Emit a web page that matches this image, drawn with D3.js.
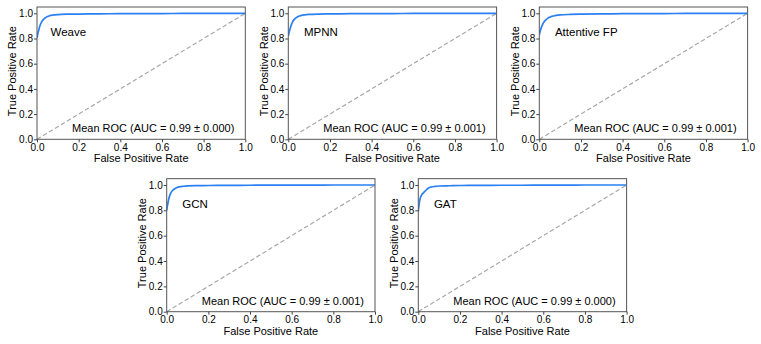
<!DOCTYPE html>
<html><head><meta charset="utf-8">
<script src="https://cdn.jsdelivr.net/npm/d3@7"></script>
<style>
body{margin:0;background:#fff;}
text{font-family:"Liberation Sans",Arial,sans-serif;fill:#000;}
</style></head>
<body><svg id="c" width="761" height="344"></svg>
<script>
const models = ["Weave", "MPNN", "Attentive FP", "GCN", "GAT"];
const aucLabels = ["Mean ROC (AUC = 0.99 \u00b1 0.000)", "Mean ROC (AUC = 0.99 \u00b1 0.001)", "Mean ROC (AUC = 0.99 \u00b1 0.001)", "Mean ROC (AUC = 0.99 \u00b1 0.001)", "Mean ROC (AUC = 0.99 \u00b1 0.000)"];
const fpr = [0, 0.005, 0.01, 0.015, 0.02, 0.03, 0.04, 0.05, 0.06, 0.08, 0.1, 0.15, 0.2, 0.3, 0.4, 0.5, 0.6, 0.7, 0.8, 0.9, 1.0];
const tprWeave = [0.805, 0.845, 0.878, 0.905, 0.925, 0.95, 0.964, 0.974, 0.981, 0.987, 0.99, 0.993, 0.994, 0.996, 0.997, 0.998, 0.998, 0.999, 0.999, 1.0, 1.0];
const tprMPNN = [0.82, 0.855, 0.885, 0.91, 0.93, 0.954, 0.967, 0.976, 0.982, 0.988, 0.991, 0.994, 0.995, 0.997, 0.998, 0.998, 0.999, 0.999, 0.999, 1.0, 1.0];
const tprAttentiveFP = [0.83, 0.862, 0.888, 0.908, 0.924, 0.946, 0.96, 0.969, 0.976, 0.983, 0.987, 0.991, 0.993, 0.995, 0.997, 0.998, 0.998, 0.999, 0.999, 1.0, 1.0];
const tprGCN = [0.8, 0.85, 0.89, 0.918, 0.938, 0.96, 0.972, 0.98, 0.985, 0.99, 0.993, 0.995, 0.996, 0.997, 0.998, 0.999, 0.999, 0.999, 1.0, 1.0, 1.0];
const tprGAT = [0.79, 0.86, 0.9, 0.918, 0.93, 0.948, 0.964, 0.977, 0.983, 0.989, 0.992, 0.994, 0.996, 0.997, 0.998, 0.998, 0.999, 0.999, 1.0, 1.0, 1.0];
const tprs = [tprWeave, tprMPNN, tprAttentiveFP, tprGCN, tprGAT];
const ticks = [0, 0.2, 0.4, 0.6, 0.8, 1.0];

const layout = [
  {x0: 37, y0: 139.3, y1: 13.3},
  {x0: 288.3, y0: 139.3, y1: 13.3},
  {x0: 539.3, y0: 139.3, y1: 13.3},
  {x0: 166.7, y0: 311.7, y1: 185},
  {x0: 418.3, y0: 311.7, y1: 185}
];
const W = 208.3;
const svg = d3.select("#c");
const fmt = d3.format(".1f");

models.forEach((name, i) => {
  const L = layout[i];
  const x = d3.scaleLinear().domain([0, 1]).range([L.x0, L.x0 + W]);
  const y = d3.scaleLinear().domain([0, 1]).range([L.y0, L.y1]);
  const yTop = y(1.05);
  const g = svg.append("g");
  const cid = "clip" + i;
  g.append("clipPath").attr("id", cid).append("rect")
    .attr("x", x(0)).attr("y", yTop).attr("width", W).attr("height", y(0) - yTop);

  // diagonal
  g.append("line").attr("x1", x(0)).attr("y1", y(0)).attr("x2", x(1)).attr("y2", y(1))
    .attr("stroke", "#a8a8a8").attr("stroke-width", 1.2).attr("stroke-dasharray", "4.5,2.5");

  // ROC curve
  const line = d3.line().x((d, k) => x(fpr[k])).y(d => y(d)).curve(d3.curveMonotoneX);
  g.append("path").datum(tprs[i]).attr("d", line).attr("fill", "none")
    .attr("stroke", "#2a7ff2").attr("stroke-width", 1.7).attr("clip-path", `url(#${cid})`);

  // frame
  g.append("rect").attr("x", x(0)).attr("y", yTop).attr("width", W).attr("height", y(0) - yTop)
    .attr("fill", "none").attr("stroke", "#555").attr("stroke-width", 1);

  // axes
  const xa = g.append("g").attr("transform", `translate(0,${y(0)})`)
    .call(d3.axisBottom(x).tickValues(ticks).tickFormat(fmt).tickSize(3).tickPadding(1.5));
  const ya = g.append("g").attr("transform", `translate(${x(0)},0)`)
    .call(d3.axisLeft(y).tickValues(ticks).tickFormat(fmt).tickSize(3).tickPadding(1));
  [xa, ya].forEach(a => {
    a.select(".domain").remove();
    a.selectAll("line").attr("stroke", "#444");
    a.selectAll("text").style("font-size", "10px").style("font-family", '"Liberation Sans",Arial,sans-serif').attr("fill", "#000");
  });

  // axis labels
  g.append("text").attr("x", x(0.5)).attr("y", y(0) + 23).attr("text-anchor", "middle")
    .style("font-size", "11px").text("False Positive Rate");
  g.append("text").attr("transform", `translate(${x(0) - 24.5},${(y(0) + yTop) / 2 - 2}) rotate(-90)`)
    .attr("text-anchor", "middle").attr("dy", "0.35em").style("font-size", "11px").text("True Positive Rate");

  // model name
  g.append("text").attr("x", x(i === 0 ? 0.065 : 0.075)).attr("y", y(0.85) + 4)
    .style("font-size", "11.5px").text(name);
  // legend text
  g.append("text").attr("x", x(1) - 11).attr("y", y(0) - 7)
    .attr("text-anchor", "end").style("font-size", "11px").text(aucLabels[i]);
});
</script></body></html>
